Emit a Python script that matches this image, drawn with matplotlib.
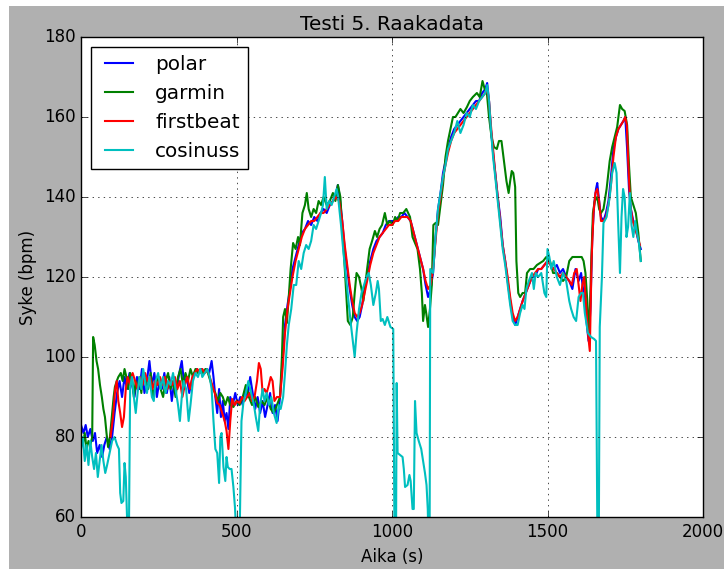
import matplotlib
matplotlib.use('Agg')
import matplotlib.pyplot as plt
from matplotlib.patches import Rectangle

# Heart rate readings (s, bpm) for each device
t_polar = [0, 8, 15, 22, 30, 38, 45, 52, 60, 68, 75, 83, 92, 100, 108, 116, 124, 132, 140, 148,
           156, 164, 172, 180, 188, 196, 204, 212, 220, 228, 236, 244, 252, 260, 268, 276, 284, 292, 300, 308,
           316, 324, 332, 340, 348, 356, 364, 372, 380, 388, 396, 404, 412, 420, 426, 432, 438, 444, 450, 456,
           462, 468, 474, 480, 488, 496, 504, 512, 520, 528, 536, 544, 552, 560, 568, 576, 584, 592, 600, 608,
           616, 624, 632, 640, 648, 656, 664, 672, 680, 690, 700, 710, 720, 730, 740, 750, 760, 770, 780, 790,
           800, 810, 820, 826, 832, 840, 848, 856, 864, 872, 880, 888, 896, 904, 912, 920, 930, 940, 950, 960,
           970, 980, 990, 1000, 1010, 1020, 1030, 1040, 1050, 1060, 1070, 1080, 1090, 1100, 1108, 1116, 1124, 1132, 1140, 1148,
           1156, 1164, 1172, 1180, 1190, 1200, 1210, 1220, 1230, 1240, 1250, 1260, 1270, 1280, 1290, 1300, 1306, 1312, 1318, 1325,
           1332, 1340, 1348, 1356, 1364, 1372, 1380, 1388, 1396, 1404, 1412, 1420, 1430, 1440, 1450, 1460, 1470, 1480, 1490, 1500,
           1510, 1520, 1530, 1540, 1550, 1560, 1570, 1580, 1590, 1600, 1608, 1616, 1624, 1632, 1638, 1644, 1650, 1656, 1660, 1666,
           1672, 1680, 1688, 1696, 1704, 1712, 1720, 1728, 1736, 1744, 1750, 1756, 1762, 1768, 1776, 1784, 1792, 1800]
hr_polar = [83, 81, 83, 80, 82, 79, 81, 76, 78, 75, 78, 80, 77, 80, 86, 91, 94, 90, 95, 92,
            96, 93, 90, 95, 92, 97, 91, 94, 99, 93, 96, 90, 94, 92, 96, 91, 95, 89, 94, 92,
            96, 99, 93, 95, 91, 94, 96, 97, 96, 97, 96, 97, 96, 99, 95, 90, 86, 92, 85, 89,
            84, 86, 82, 90, 88, 91, 88, 90, 88, 92, 90, 95, 91, 87, 90, 86, 89, 85, 88, 91,
            86, 88, 84, 90, 99, 108, 113, 117, 122, 125, 128, 131, 132, 134, 133, 135, 134, 136, 137, 136,
            138, 139, 141, 143, 140, 134, 127, 122, 117, 113, 110, 109, 110, 113, 117, 120, 124, 127, 129, 130,
            131, 133, 134, 134, 134, 135, 135, 136, 135, 134, 131, 128, 125, 122, 118, 115, 117, 121, 130, 137,
            141, 146, 149, 152, 155, 157, 158, 159, 160, 161, 162, 163, 164, 164, 166, 167, 168.5, 164, 157, 151,
            146, 140, 135, 128, 124, 119, 114, 110, 108, 110, 112, 114, 116, 118, 120, 120, 122, 122, 123, 124,
            123, 122, 123, 121, 122, 120, 119, 117, 122, 119, 121, 116, 110, 104, 112, 130, 138, 142, 143.5, 139,
            135, 134, 136, 139, 145, 152, 155, 157, 158, 159, 160, 152, 142, 137, 134, 132, 129, 127]

t_garmin = [0, 6, 12, 18, 24, 30, 36, 39, 44, 50, 55, 61, 67, 72, 77, 82, 87, 93, 100, 105,
            109, 115, 120, 128, 134, 140, 146, 152, 158, 164, 170, 176, 182, 188, 194, 200, 208, 216, 224, 232,
            240, 248, 256, 264, 272, 280, 288, 296, 304, 312, 320, 328, 336, 344, 352, 360, 368, 376, 384, 392,
            400, 408, 416, 424, 432, 440, 448, 456, 464, 472, 480, 490, 500, 510, 520, 530, 540, 550, 560, 570,
            580, 590, 600, 610, 620, 630, 640, 646, 650, 656, 662, 668, 674, 682, 690, 698, 704, 712, 720, 726,
            732, 740, 748, 756, 764, 772, 780, 790, 800, 810, 818, 826, 834, 840, 846, 852, 858, 866, 874, 880,
            886, 894, 902, 908, 914, 920, 928, 936, 945, 952, 960, 968, 977, 985, 993, 1002, 1010, 1018, 1026, 1036,
            1046, 1058, 1066, 1074, 1082, 1090, 1096, 1100, 1106, 1110, 1116, 1122, 1128, 1133, 1140, 1148, 1156, 1164, 1172, 1180,
            1188, 1196, 1204, 1212, 1220, 1230, 1241, 1250, 1260, 1273, 1282, 1291, 1298, 1305, 1312, 1320, 1328, 1337, 1344, 1352,
            1360, 1368, 1375, 1380, 1385, 1390, 1396, 1400, 1406, 1412, 1420, 1428, 1434, 1444, 1455, 1466, 1476, 1486, 1496, 1508,
            1518, 1530, 1540, 1550, 1560, 1570, 1580, 1590, 1600, 1610, 1616, 1622, 1628, 1634, 1640, 1646, 1652, 1660, 1666, 1672,
            1680, 1690, 1700, 1708, 1716, 1724, 1733, 1740, 1748, 1756, 1762, 1768, 1776, 1784, 1792, 1800]
hr_garmin = [80, 78, 81, 77, 79, 78, 80, 105, 103, 99, 97, 93, 90, 87, 85, 81, 77.5, 80, 86, 90,
             92.5, 94, 95, 96, 94, 97, 95, 92, 96, 95, 90, 94, 92, 95, 91, 96, 94, 92, 96, 90,
             93, 95, 92, 90, 94, 96, 92, 94, 90, 95, 97, 93, 96, 94, 97, 95, 97, 96, 97, 96,
             97, 96, 94, 92, 91, 89, 91, 90, 88, 90, 88, 87.5, 89, 88, 90, 93, 90, 88, 90, 87.5,
             89, 88, 90, 87, 86, 88, 90, 100, 110, 112, 108.5, 115, 122, 128.5, 127, 130, 128, 136, 138, 141,
             137, 135, 137, 136, 139, 138, 140, 138, 139, 141, 139, 143, 140, 132, 125, 117, 109, 108, 110, 116,
             121, 120, 117, 114, 118, 122, 127, 129, 131.5, 130, 132, 133, 136, 133, 134, 133, 135, 134, 136, 136,
             137, 135, 130, 128.5, 127, 122, 116, 109, 113, 111, 107.5, 112, 118, 133, 133.5, 133, 138, 143, 150, 154,
             157, 160, 160, 161, 162, 161, 162.5, 164, 165, 166, 165, 169, 167, 166, 160, 155, 152.5, 152, 154, 154,
             149, 144, 141, 144, 146.5, 146, 142.5, 124, 116, 115, 116, 116, 121, 122, 122, 123, 123.5, 124, 125, 124,
             121, 121, 120, 119, 120, 124, 125, 125, 125, 125, 124, 121, 114, 105, 122, 136, 139, 140, 137, 136,
             137, 142, 149, 152.5, 155, 157.5, 163, 162, 161.5, 158, 148, 140, 138, 136, 131, 124]

t_firstbeat = [95, 103, 110, 115, 120, 126, 132, 138, 144, 150, 158, 166, 174, 182, 190, 198, 206, 214, 222, 230,
               238, 246, 254, 262, 270, 278, 286, 294, 302, 310, 318, 326, 334, 342, 350, 358, 366, 374, 382, 390,
               398, 406, 414, 422, 430, 438, 446, 454, 462, 468, 474, 480, 486, 494, 502, 510, 518, 526, 534, 542,
               550, 558, 566, 572, 578, 584, 590, 597, 604, 610, 616, 622, 630, 640, 648, 656, 664, 672, 680, 690,
               700, 710, 720, 730, 740, 750, 760, 770, 780, 790, 800, 810, 820, 830, 840, 848, 856, 864, 872, 880,
               888, 896, 904, 912, 920, 930, 940, 950, 960, 970, 980, 990, 1000, 1010, 1020, 1030, 1040, 1050, 1060, 1070,
               1080, 1090, 1100, 1108, 1116, 1124, 1132, 1140, 1148, 1156, 1164, 1172, 1180, 1190, 1200, 1210, 1220, 1230, 1240, 1250,
               1260, 1270, 1280, 1290, 1300, 1306, 1312, 1318, 1325, 1332, 1340, 1348, 1356, 1364, 1372, 1380, 1388, 1396, 1404, 1412,
               1420, 1430, 1440, 1450, 1460, 1470, 1480, 1490, 1500, 1510, 1520, 1530, 1540, 1550, 1560, 1570, 1578, 1586, 1594, 1600,
               1606, 1612, 1618, 1624, 1630, 1636, 1642, 1648, 1654, 1660, 1666, 1672, 1680, 1688, 1696, 1704, 1712, 1720, 1728, 1736,
               1744, 1750, 1755, 1760, 1766, 1774, 1782, 1790, 1797]
hr_firstbeat = [80, 85, 92, 94, 89, 86, 82.5, 85, 92, 95, 93, 96, 94, 92, 95, 93, 96, 94, 95, 92,
                94, 93, 95, 93, 95, 92, 94, 93, 95, 92, 94, 90, 93, 95, 92, 95, 96, 97, 96, 97,
                96, 97, 95, 93, 91, 88.5, 88, 86, 84, 81.5, 77, 84, 89.5, 88, 89, 88.5, 90, 89, 90, 91,
                89, 90, 94, 98.5, 97, 91, 92, 91, 93, 95, 94, 89, 90, 90, 97, 106, 112, 116, 120, 124,
                127, 130, 132, 133, 134, 134, 135, 136, 136, 137, 138, 139, 140, 139, 134, 128, 123, 118, 114, 111,
                110, 111, 113, 116, 119, 123, 126, 128, 130, 131, 132, 133, 133, 134, 134, 135, 135, 135, 134, 131,
                128, 125, 122, 119, 117, 118, 122, 129, 136, 140, 145, 148, 151, 154, 156, 157, 158, 159, 160, 161,
                162, 163, 164, 165, 166, 167, 164, 158, 152, 146, 140, 134, 128, 124, 120, 115, 111, 109, 110, 112,
                114, 116, 118, 120, 121, 122, 122, 123, 124, 123, 122, 121, 120, 121, 120, 119, 118, 121, 122, 118,
                114, 118, 120, 113, 106, 101.5, 125, 136, 141, 142, 139, 134, 134, 135, 138, 143, 150, 155, 157, 158,
                159, 160, 158, 148, 138, 134, 132, 130, 128]

t_cosinuss = [0, 6, 12, 18, 24, 30, 36, 42, 48, 54, 60, 66, 72, 78, 84, 92, 100, 108, 116, 122,
              126, 130, 136, 140, 144, 150, 154, 158, 164, 170, 176, 182, 188, 194, 200, 206, 212, 220, 228, 234,
              240, 248, 256, 264, 272, 280, 288, 296, 304, 312, 318, 324, 330, 338, 346, 352, 360, 368, 376, 384,
              390, 398, 406, 414, 420, 426, 432, 438, 444, 448, 452, 458, 464, 468, 472, 478, 484, 490, 495, 500,
              510, 516, 522, 530, 538, 543, 550, 556, 562, 570, 576, 584, 590, 597, 604, 612, 620, 629, 636, 642,
              650, 656, 662, 668, 676, 684, 692, 700, 708, 716, 724, 732, 740, 748, 756, 764, 772, 778, 784, 790,
              798, 806, 814, 822, 828, 836, 844, 852, 860, 868, 874, 880, 886, 894, 902, 910, 918, 925, 932, 940,
              948, 954, 958, 964, 970, 977, 985, 995, 1004, 1008, 1013, 1015, 1018, 1026, 1034, 1038, 1042, 1050, 1056, 1060,
              1066, 1070, 1074, 1079, 1086, 1094, 1100, 1106, 1111, 1115, 1117, 1121, 1123, 1132, 1140, 1148, 1156, 1164, 1172, 1180,
              1190, 1200, 1210, 1220, 1230, 1240, 1250, 1260, 1270, 1280, 1290, 1300, 1306, 1312, 1318, 1325, 1332, 1340, 1348, 1356,
              1364, 1372, 1380, 1388, 1396, 1404, 1412, 1420, 1426, 1432, 1440, 1450, 1456, 1462, 1470, 1480, 1490, 1496, 1500, 1506,
              1512, 1520, 1530, 1540, 1550, 1560, 1570, 1576, 1584, 1592, 1600, 1608, 1614, 1620, 1630, 1640, 1650, 1656, 1660, 1662,
              1665, 1668, 1675, 1680, 1690, 1700, 1708, 1716, 1722, 1727, 1733, 1738, 1743, 1748, 1754, 1759, 1765, 1770, 1776, 1782,
              1788, 1794, 1800]
hr_cosinuss = [77, 80, 74, 78, 73, 79, 75, 72, 76, 70, 74, 78, 74, 71, 73, 76, 79, 80, 78, 77,
               66, 63.5, 64, 73.5, 70, 55, 55, 92.5, 95, 90, 86, 91, 95, 92, 97, 94, 91, 95, 90, 89,
               94, 96, 92, 95, 91, 94, 93, 96, 92, 88, 84, 90, 94, 92, 84, 88, 94, 96, 95, 97,
               95, 96, 97, 95, 92, 84, 77, 76, 68.5, 80, 81, 72.5, 69, 75, 72.5, 72, 72, 67.5, 62.5, 55,
               55, 84, 88.5, 91, 94, 92.5, 90, 88, 85, 81.5, 88, 92, 89, 91, 88, 90, 86, 83.5, 88, 87,
               90, 96, 103, 108, 112, 118, 118, 124, 122, 126, 128, 127, 129, 133, 132, 134, 136, 138, 145, 137,
               139, 138, 140, 142, 139, 133, 126, 120, 114, 108, 104, 100, 106, 112, 116, 118, 120, 121, 118, 113,
               116, 119, 117, 109, 109.5, 108, 110, 107.5, 107, 55, 55, 93.5, 76, 75.5, 75, 72, 67.5, 68, 70.5, 69,
               62, 62, 89, 81, 79, 77, 74, 71, 68, 62, 55, 55, 122, 121, 130, 137, 141, 145, 148, 152,
               154, 156, 159, 156, 158, 161, 160, 163, 162, 164, 165, 166, 168, 164, 157, 150, 145, 139, 133, 127,
               123, 118, 113, 109, 108, 108, 111, 113, 112, 117, 119, 121, 117, 121, 120, 121, 116, 115, 127, 125,
               122, 124, 120, 118, 121, 119, 114, 112, 110, 109, 115, 116, 116, 111, 106, 105, 104.5, 104, 60, 55,
               55, 107.5, 120, 133.5, 135, 140, 146, 148.5, 146, 134, 121, 135, 142, 140, 130, 132.5, 141, 133, 130, 134,
               131, 128.5, 124]

plt.style.use('classic')

fig = plt.figure(figsize=(7.24, 5.69), dpi=100, facecolor='white')
# grey panel behind the plot, leaving a thin white margin on the left and top
fig.add_artist(Rectangle((9 / 724, 0), 1, 1 - 6 / 569, transform=fig.transFigure,
                         facecolor='0.69', edgecolor='none', zorder=-10))

ax = fig.add_axes([81 / 724, 1 - 517 / 569, 622 / 724, 480 / 569])
ax.plot(t_polar, hr_polar, color='b', lw=1.5, label='polar')
ax.plot(t_garmin, hr_garmin, color='g', lw=1.5, label='garmin')
ax.plot(t_firstbeat, hr_firstbeat, color='r', lw=1.5, label='firstbeat')
ax.plot(t_cosinuss, hr_cosinuss, color='c', lw=1.5, label='cosinuss')

ax.set_xlim(0, 2000)
ax.set_ylim(60, 180)
ax.set_xticks([0, 500, 1000, 1500, 2000])
ax.set_yticks([60, 80, 100, 120, 140, 160, 180])
ax.grid(True)
ax.set_title('Testi 5. Raakadata')
ax.set_xlabel('Aika (s)')
ax.set_ylabel('Syke (bpm)')
ax.legend(loc='upper left')

fig.savefig('out.png', dpi=100, facecolor='white')
